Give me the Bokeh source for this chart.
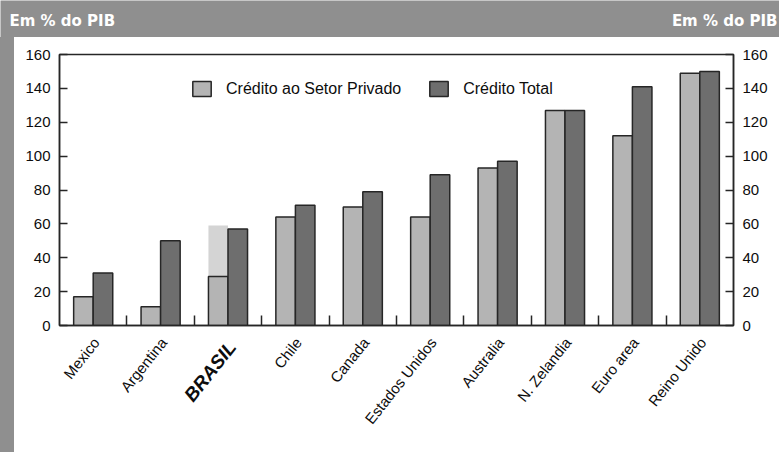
import numpy as np
from bokeh.plotting import figure
from bokeh.layouts import column, row
from bokeh.models import (ColumnDataSource, Range1d, LinearAxis, FixedTicker,
                          Legend, LegendItem, Spacer)
from bokeh.core.properties import value
from bokeh.transform import dodge
from bokeh.embed import file_html
from bokeh.resources import INLINE

# Crédito em % do PIB, por país
countries = ["Mexico", "Argentina", "BRASIL", "Chile", "Canada",
             "Estados Unidos", "Australia", "N. Zelandia", "Euro area", "Reino Unido"]
credito_privado = [17, 11, 29, 64, 70, 64, 93, 127, 112, 149]
credito_total = [31, 50, 57, 71, 79, 89, 97, 127, 141, 150]
brasil_privado_amplo = 59          # medida ampliada do crédito privado no Brasil
y_ticks = [0, 20, 40, 60, 80, 100, 120, 140, 160]
header = "Em % do PIB"

FONT = "Liberation Sans"
LIGHT = "#b4b4b4"
DARK = "#6e6e6e"
EXTRA = "#d4d4d4"
EDGE = "#262626"
BAND = "#8f8f8f"
TXT = "#0d0d0d"

W, H = 779, 452
BAND_H, STRIP_W = 37, 14
MAIN_H = 297            # chart block; frame is 271 px tall with 17 px above it

pos = np.arange(len(countries)) + 0.5
src = ColumnDataSource(dict(pos=pos, privado=credito_privado, total=credito_total))


def bare(fig):
    for g in fig.grid:
        g.visible = False


# ---- gray header band
top = figure(width=W, height=BAND_H, x_range=Range1d(0, W), y_range=Range1d(0, BAND_H),
             output_backend="svg", toolbar_location=None, x_axis_location=None,
             y_axis_location=None, min_border=0, border_fill_color=BAND,
             background_fill_color=BAND, outline_line_color=None)
bare(top)
top.text(x=[9], y=[17], text=[header], text_align="left", text_baseline="middle",
         text_font=value("DejaVu Sans"), text_font_style="bold",
         text_font_size="15px", text_color="white")
top.text(x=[W - 2], y=[17], text=[header], text_align="right", text_baseline="middle",
         text_font=value("DejaVu Sans"), text_font_style="bold",
         text_font_size="15px", text_color="white")

strip = Spacer(width=STRIP_W, height=H - BAND_H, styles={"background-color": BAND})

# ---- main chart
PW = W - STRIP_W
p = figure(width=PW, height=MAIN_H, x_range=Range1d(0, len(countries)),
           y_range=Range1d(0, 160), output_backend="svg", toolbar_location=None,
           x_axis_location=None, y_axis_location=None,
           min_border_left=45, min_border_right=46, min_border_top=17,
           min_border_bottom=MAIN_H - 17 - 271, border_fill_color="white",
           background_fill_color="white", outline_line_color=EDGE,
           outline_line_width=1.5)
bare(p)

bw = 0.29
# Brazil's broader private-credit measure, stacked above the standard bar
ib = countries.index("BRASIL")
p.vbar(x=[pos[ib] - bw / 2], bottom=[credito_privado[ib]], top=[brasil_privado_amplo],
       width=bw, fill_color=EXTRA, line_color=None)

r_priv = p.vbar(x=dodge("pos", -bw / 2), width=bw, top="privado", source=src,
                fill_color=LIGHT, line_color=EDGE, line_width=1.5)
r_tot = p.vbar(x=dodge("pos", bw / 2), width=bw, top="total", source=src,
               fill_color=DARK, line_color=EDGE, line_width=1.5)


def style_y(ax):
    ax.ticker = FixedTicker(ticks=y_ticks)
    ax.major_tick_in = 8
    ax.major_tick_out = 0
    ax.minor_tick_in = 0
    ax.minor_tick_out = 0
    ax.axis_line_color = EDGE
    ax.axis_line_width = 1.5
    ax.major_tick_line_color = EDGE
    ax.major_tick_line_width = 1.5
    ax.major_label_standoff = 9
    ax.major_label_text_font = FONT
    ax.major_label_text_font_size = "15px"
    ax.major_label_text_color = TXT


yl = LinearAxis()
style_y(yl)
p.add_layout(yl, "left")
yr = LinearAxis()
style_y(yr)
p.add_layout(yr, "right")

# category boundaries as inward ticks on the base line
xa = LinearAxis(ticker=FixedTicker(ticks=[], minor_ticks=list(range(1, len(countries)))),
                major_tick_in=0, major_tick_out=0,
                minor_tick_in=10, minor_tick_out=0,
                minor_tick_line_color=EDGE, minor_tick_line_width=1.5,
                axis_line_color=EDGE, axis_line_width=1.5,
                major_label_standoff=0, major_label_text_font_size="0px")
p.add_layout(xa, "below")

legend = Legend(items=[LegendItem(label="Crédito ao Setor Privado", renderers=[r_priv]),
                       LegendItem(label="Crédito Total", renderers=[r_tot])],
                orientation="horizontal", location=(131, 227),
                background_fill_alpha=0, border_line_color=None,
                padding=0, margin=0, spacing=26, label_standoff=13,
                glyph_width=23, glyph_height=19,
                label_text_font=FONT, label_text_font_size="16px",
                label_text_color=TXT)
p.add_layout(legend, "center")

# ---- rotated country names under the chart, on the same x scale
lab = figure(width=PW, height=H - BAND_H - MAIN_H, x_range=p.x_range, y_range=Range1d(0, 1),
             output_backend="svg", toolbar_location=None, x_axis_location=None,
             y_axis_location=None, min_border_left=45, min_border_right=46,
             min_border_top=0, min_border_bottom=0, border_fill_color="white",
             background_fill_color="white", outline_line_color=None)
bare(lab)
others = [i for i, c in enumerate(countries) if c != "BRASIL"]
lab.text(x=[pos[i] for i in others], y=1, text=[countries[i] for i in others],
         angle=0.9, text_align="right", text_baseline="middle",
         x_offset=3, y_offset=5,
         text_font=value(FONT), text_font_size="15px", text_color=TXT)
lab.text(x=[pos[ib]], y=1, text=[countries[ib]], angle=0.9,
         text_align="right", text_baseline="middle", x_offset=4, y_offset=9,
         text_font=value(FONT), text_font_style="bold italic",
         text_font_size="19px", text_color=TXT)

layout = column(top, row(strip, column(p, lab, spacing=0), spacing=0), spacing=0)
open("out.html", "w").write(file_html(layout, INLINE))
